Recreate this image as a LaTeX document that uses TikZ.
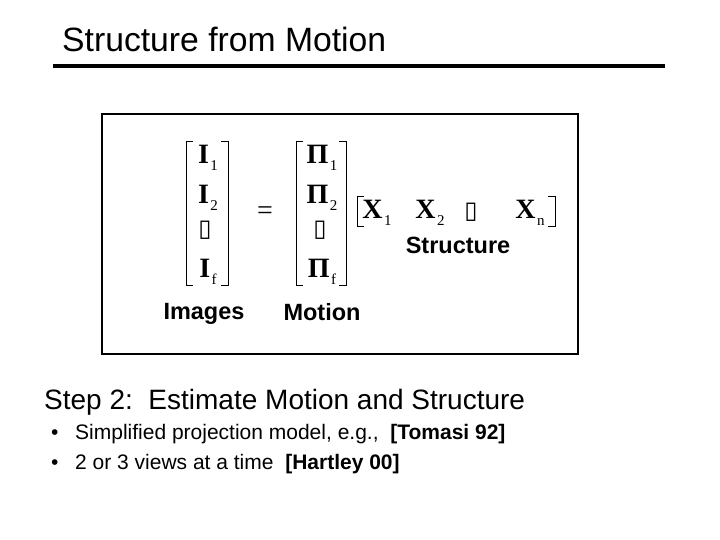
\documentclass[tikz,border=0pt]{standalone}
\usepackage{fontspec}
\setmainfont{Liberation Sans}
\newfontfamily\timesfont{Liberation Serif}
\newfontfamily\boxfont{DejaVu Sans}
\usepackage{tikz}
\usetikzlibrary{
	positioning,
	calc
}
% matrix entry: bold letter with a small subscript
\newcommand{\ent}[2]{{\timesfont\bfseries #1}\kern1.5pt\raisebox{-0.5ex}{\timesfont\fontsize{15}{15}\selectfont #2}}
\newcommand{\gap}{{\boxfont\fontsize{24}{24}\selectfont ▯}}

\begin{document}
\begin{tikzpicture}[x=1pt, y=-1pt,
		ent/.style={inner sep=0pt, font=\fontsize{28}{28}\selectfont},
		lbl/.style={inner sep=0pt, anchor=base, font=\fontsize{23.5}{23.5}\selectfont\bfseries},
		txt/.style={inner sep=0pt, anchor=base west, font=\fontsize{#1}{#1}\selectfont},
		brk/.style={line width=1pt}]
	\useasboundingbox[fill=white] (0,0) rectangle (720,540);
	% title
	\node[txt=33.7] (title) at (62,52) {Structure from Motion};
	\draw[line width=4pt] (53,66) -- (665,66);
	% frame
	\draw[line width=2pt] (102,114) rectangle (578,354);
	% images
	\node[ent] (i1) at (208,158) {\ent{I}{1}};
	\node[ent] (i2) at (208,198) {\ent{I}{2}};
	\node[ent] (idots) at (205,230) {\gap};
	\node[ent] (if) at (208,272) {\ent{I}{f}};
	\draw[brk] (193,142) -- (186,142) -- (186,285) -- (193,285);
	\draw[brk] (221,142) -- (228,142) -- (228,285) -- (221,285);
	\node[ent] (eq) at (265,213) {\timesfont =};
	% motion
	\node[ent] (p1) at (322,158) {\ent{Π}{1}};
	\node[ent] (p2) at (322,198) {\ent{Π}{2}};
	\node[ent] (pdots) at (320,230) {\gap};
	\node[ent] (pf) at (322,272) {\ent{Π}{f}};
	\draw[brk] (303,142) -- (296,142) -- (296,285) -- (303,285);
	\draw[brk] (339,142) -- (346,142) -- (346,285) -- (339,285);
	% structure
	\node[ent] (x1) at (377,213) {\ent{X}{1}};
	\node[ent] (x2) at (430,213) {\ent{X}{2}};
	\node[ent] (xdots) at (471,212) {\gap};
	\node[ent] (xn) at (530,213) {\ent{X}{n}};
	\draw[brk] (364,197) -- (357,197) -- (357,227) -- (364,227);
	\draw[brk] (548,197) -- (555,197) -- (555,227) -- (548,227);
	% labels
	\node[lbl] (structure) at (458,254) {Structure};
	\node[lbl] (images) at (204,319) {Images};
	\node[lbl] (motion) at (322,320) {Motion};
	% text below
	\node[txt=28] (step) at (44,409) {Step 2:\ \ Estimate Motion and Structure};
	\node[txt=21] (dot1) at (51,439) {•};
	\node[txt=21] (b1) at (75,439) {Simplified projection model, e.g.,\ \ \textbf{[Tomasi 92]}};
	\node[txt=21] (dot2) at (51,469) {•};
	\node[txt=21] (b2) at (75,469) {2 or 3 views at a time\ \ \textbf{[Hartley 00]}};
\end{tikzpicture}
\end{document}
